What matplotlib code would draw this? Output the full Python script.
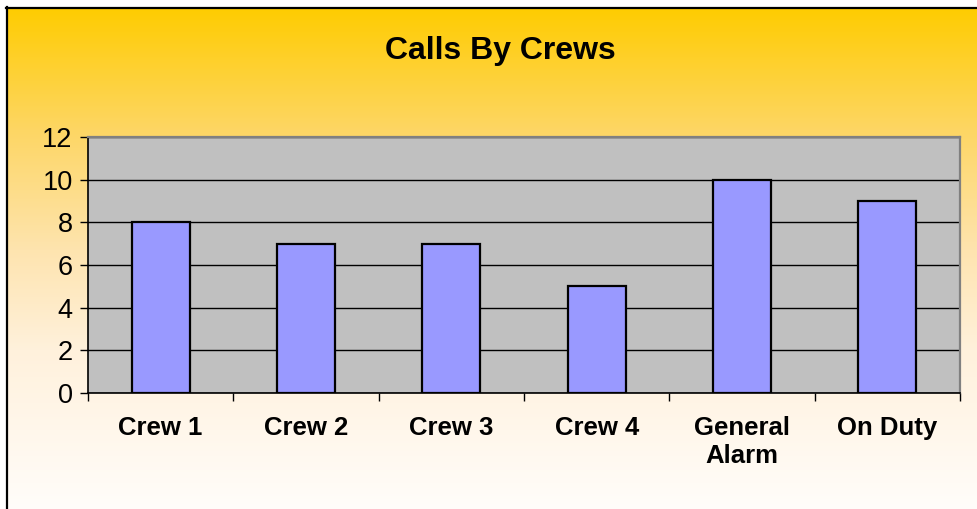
import numpy as np
import matplotlib
matplotlib.use("Agg")
import matplotlib.pyplot as plt
from matplotlib.patches import Rectangle

categories = ["Crew 1", "Crew 2", "Crew 3", "Crew 4", "General\nAlarm", "On Duty"]
calls = [8, 7, 7, 5, 10, 9]
yticks = [0, 2, 4, 6, 8, 10, 12]

W, H = 977, 509
fig = plt.figure(figsize=(W / 100, H / 100), dpi=100)
fig.patch.set_facecolor("white")

# background gradient
bg = fig.add_axes([0, 0, 1, 1], zorder=-10)
stops_y = np.array([0, 7, 130, 250, 350, 509])
stops_c = np.array([
    [255, 204, 0], [255, 204, 0], [253, 214, 100], [254, 228, 175],
    [255, 241, 220], [255, 253, 250]]) / 255.0
ys = np.arange(H)
grad = np.stack([np.interp(ys, stops_y, stops_c[:, k]) for k in range(3)], axis=-1)
img = np.repeat(grad[:, None, :], W, axis=1)
bg.imshow(img, extent=[0, W, H, 0], aspect="auto", interpolation="bilinear")
bg.set_xlim(0, W)
bg.set_ylim(H, 0)
bg.axis("off")
bg.add_patch(Rectangle((0, 0), 6, H, color="white", zorder=2))
bg.add_patch(Rectangle((0, 0), W, 7, color="white", zorder=2))
bg.plot([6.5, 6.5], [7, H + 5], color="black", lw=1.6, zorder=3, clip_on=False)
bg.plot([6, W + 5], [7.5, 7.5], color="black", lw=1.6, zorder=3, clip_on=False)

# plot area
left, right, top, bottom = 88, 960, 137, 393
ax = fig.add_axes([left / W, 1 - bottom / H, (right - left) / W, (bottom - top) / H])
ax.set_facecolor("#C0C0C0")
x = np.arange(len(categories))
ax.bar(x, calls, width=0.4, color="#9999FF", edgecolor="black", linewidth=1.6, zorder=3)
ax.set_xlim(-0.5, len(categories) - 0.5)
ax.set_ylim(0, 12)
ax.set_yticks(yticks)
ax.set_yticklabels([str(v) for v in yticks], fontsize=19.5, family="Liberation Sans")
ax.yaxis.grid(True, color="black", linewidth=1.0, zorder=1)
ax.set_axisbelow(True)
ax.set_xticks(x)
ax.set_xticklabels(categories, fontsize=18.5, fontweight="bold", family="Liberation Sans",
                   linespacing=1.2)
ax.set_xticks(np.arange(-0.5, len(categories) + 0.5, 1), minor=True)
ax.tick_params(axis="x", which="major", length=0, pad=16.5)
ax.tick_params(axis="x", which="minor", length=6, width=1.0, direction="out")
ax.tick_params(axis="y", length=6, width=1.0, direction="out", pad=5)
for s in ["top", "right"]:
    ax.spines[s].set_color("#808080")
    ax.spines[s].set_linewidth(1.6)
for s in ["left", "bottom"]:
    ax.spines[s].set_color("black")
    ax.spines[s].set_linewidth(1.2)

fig.text(500 / W, 1 - 51 / H, "Calls By Crews", ha="center", va="center",
         fontsize=23, fontweight="bold", family="Liberation Sans")

fig.savefig("out.png", dpi=100)
